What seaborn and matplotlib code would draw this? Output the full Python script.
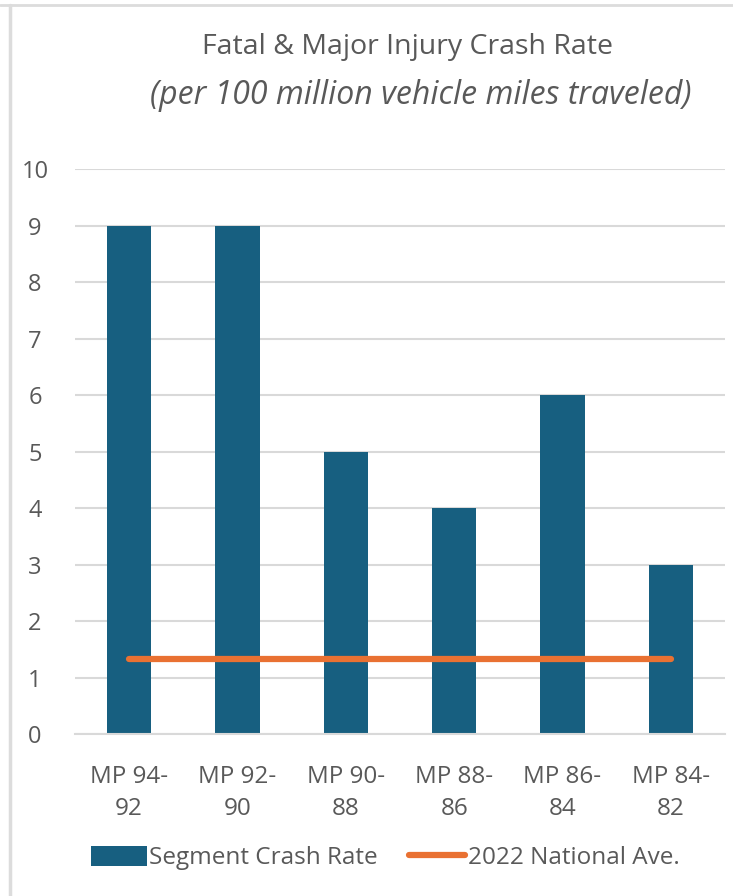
import matplotlib
matplotlib.use("Agg")
import matplotlib.pyplot as plt
import seaborn as sns
import pandas as pd
from matplotlib.lines import Line2D
from matplotlib.patches import Patch

# Chart data
segments = ["MP 94-\n92", "MP 92-\n90", "MP 90-\n88", "MP 88-\n86", "MP 86-\n84", "MP 84-\n82"]
crash_rate = [9, 9, 5, 4, 6, 3]
national_ave = [1.33, 1.33, 1.33, 1.33, 1.33, 1.33]

bar_color = "#175f80"
line_color = "#e97132"
text_color = "#595959"
grid_color = "#d9d9d9"

df = pd.DataFrame({"segment": segments, "rate": crash_rate, "national": national_ave})

sns.set_theme(style="white")
plt.rcParams["font.family"] = ["Open Sans", "DejaVu Sans"]

W, H = 733, 896
fig = plt.figure(figsize=(W / 100, H / 100), dpi=100)
ax = fig.add_axes([75 / W, 1 - 734 / H, 650 / W, (734 - 169) / H])

sns.barplot(data=df, x="segment", y="rate", color=bar_color, width=0.41,
            saturation=1, ax=ax, zorder=2, edgecolor="none", linewidth=0)
sns.lineplot(data=df, x="segment", y="national", color=line_color, linewidth=4.5,
             ax=ax, zorder=3, solid_capstyle="round")

ax.set_xlim(-0.5, 5.5)
ax.set_ylim(0, 10)
ax.set_yticks(range(0, 11))
ax.yaxis.grid(True, color=grid_color, linewidth=1.5, zorder=0)
ax.set_axisbelow(True)
for s in ["top", "right", "left"]:
    ax.spines[s].set_visible(False)
ax.spines["bottom"].set_color(grid_color)
ax.spines["bottom"].set_linewidth(1.5)
ax.set_xlabel("")
ax.set_ylabel("")
ax.tick_params(axis="y", labelsize=17, colors=text_color, length=0, pad=0)
ax.tick_params(axis="x", labelsize=17.5, colors=text_color, length=0, pad=22)
for lbl in ax.get_yticklabels():
    lbl.set_horizontalalignment("center")
    lbl.set_x(-0.0615)
for lbl in ax.get_xticklabels():
    lbl.set_linespacing(1.45)

# Title and subtitle
fig.text(408 / W, 1 - 47 / H, "Fatal & Major Injury Crash Rate", ha="center", va="center",
         fontsize=20.5, color=text_color)
fig.text(421 / W, 1 - 95 / H, "(per 100 million vehicle miles traveled)", ha="center",
         va="center", fontsize=23, color=text_color, style="italic")

# Legend
handles = [Patch(facecolor=bar_color, edgecolor="none"),
           Line2D([0], [0], color=line_color, linewidth=4.5, solid_capstyle="round")]
fig.legend(handles, ["Segment Crash Rate", "2022 National Ave."],
           loc="center", bbox_to_anchor=(385 / W, 1 - 858 / H), ncol=2, frameon=False,
           fontsize=17.5, labelcolor=text_color, handlelength=2.3, handletextpad=0.1,
           columnspacing=1.3, handleheight=0.9)

# Sheet borders
fig.add_artist(Line2D([0, 1], [1 - 5 / H, 1 - 5 / H], color="#dcdcdc", linewidth=2,
                      transform=fig.transFigure))
fig.add_artist(Line2D([9.5 / W, 9.5 / W], [0, 1 - 5 / H], color="#dcdcdc", linewidth=2.5,
                      transform=fig.transFigure))

fig.savefig("out.png", dpi=100)
